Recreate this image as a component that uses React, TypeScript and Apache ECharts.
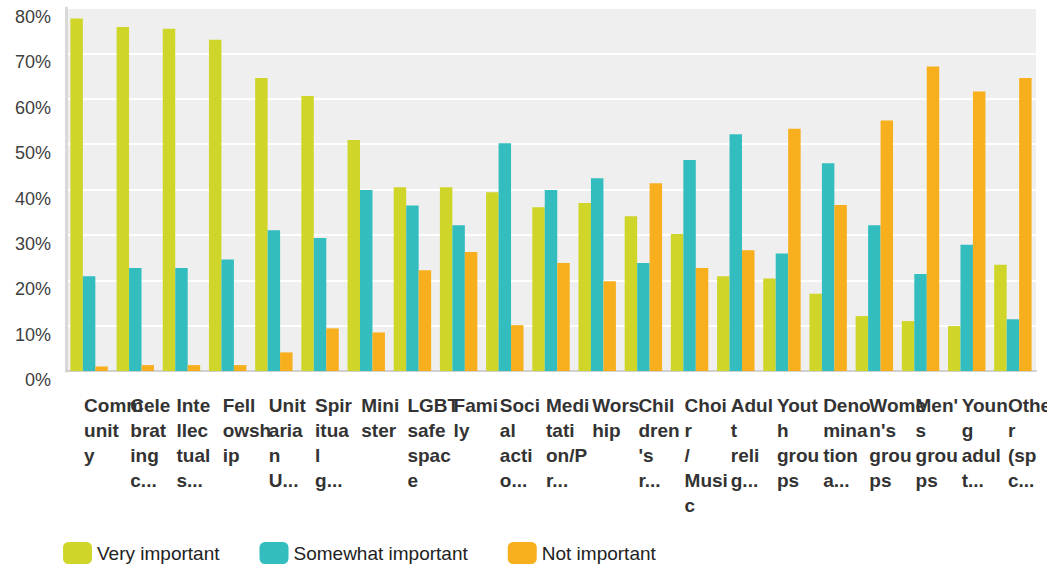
import React, { useEffect, useRef } from "react";
import * as echarts from "echarts";

const categories = [
  "Community",
  "Celebrating c...",
  "Intellectuals...",
  "Fellowship",
  "Unitarian U...",
  "Spiritual g...",
  "Minister",
  "LGBT safe space",
  "Family",
  "Social actio...",
  "Meditation/Pr...",
  "Worship",
  "Children's r...",
  "Choir / Music",
  "Adult relig...",
  "Youth groups",
  "Denomination a...",
  "Women's groups",
  "Men's groups",
  "Young adult t...",
  "Other (spec...",
];

const tickLabels = [
  "Comm\nunit\ny",
  "Cele\nbrat\ning\nc...",
  "Inte\nllec\ntual\ns...",
  "Fell\nowsh\nip",
  "Unit\naria\nn\nU...",
  "Spir\nitua\nl\ng...",
  "Mini\nster",
  "LGBT\nsafe\nspac\ne",
  "Fami\nly",
  "Soci\nal\nacti\no...",
  "Medi\ntati\non/P\nr...",
  "Wors\nhip",
  "Chil\ndren\n's\nr...",
  "Choi\nr\n/\nMusi\nc",
  "Adul\nt\nreli\ng...",
  "Yout\nh\ngrou\nps",
  "Deno\nmina\ntion\na...",
  "Wome\nn's\ngrou\nps",
  "Men'\ns\ngrou\nps",
  "Youn\ng\nadul\nt...",
  "Othe\nr\n(sp\nc...",
];

const seriesNames = ["Very important", "Somewhat important", "Not important"];

const veryImportant = [77.7, 75.8, 75.4, 73.0, 64.6, 60.6, 50.9, 40.5, 40.5, 39.4, 36.1, 37.0, 34.1, 30.2, 20.9, 20.4, 17.0, 12.1, 11.0, 9.9, 23.4];
const somewhatImportant = [20.9, 22.7, 22.7, 24.6, 31.0, 29.3, 39.9, 36.5, 32.1, 50.2, 39.9, 42.5, 23.8, 46.5, 52.2, 25.9, 45.8, 32.1, 21.4, 27.8, 11.4];
const notImportant = [1.0, 1.3, 1.3, 1.3, 4.1, 9.4, 8.5, 22.2, 26.2, 10.1, 23.8, 19.8, 41.4, 22.7, 26.6, 53.4, 36.6, 55.2, 67.1, 61.6, 64.6];

const yMin = 0;
const yMax = 80;
const yInterval = 10;

const colors = ["#cfd529", "#33bdbf", "#f7af1e"];

export default function App() {
  const ref = useRef<HTMLDivElement>(null);
  useEffect(() => {
    const chart = echarts.init(ref.current!, null, { renderer: "svg" });
    const values = [veryImportant, somewhatImportant, notImportant];
    chart.setOption({
      animation: false,
      color: colors,
      textStyle: { fontFamily: "Liberation Sans, Arial, sans-serif" },
      grid: {
        left: 66,
        right: 11,
        top: 8,
        bottom: 194,
        show: true,
        backgroundColor: "#efefef",
        borderWidth: 0,
        containLabel: false,
        outerBoundsMode: "none",
      },
      legend: {
        left: 58,
        top: 537,
        itemWidth: 29,
        itemHeight: 22,
        itemGap: 40,
        icon: "roundRect",
        textStyle: { fontSize: 19, color: "#222", fontFamily: "Liberation Sans, Arial, sans-serif" },
        data: seriesNames,
      },
      xAxis: {
        type: "category",
        data: categories,
        axisLine: { show: true, lineStyle: { color: "#d0d0d0", width: 2 } },
        axisTick: { show: false },
        axisLabel: {
          interval: 0,
          hideOverlap: false,
          formatter: (_v: string, i: number) => tickLabels[i],
          align: "left",
          padding: [0, 0, 0, -5],
          fontFamily: "Liberation Sans, Arial, sans-serif",
          fontWeight: "bold",
          fontSize: 19,
          lineHeight: 25,
          color: "#333",
          margin: 22,
        },
      },
      yAxis: {
        type: "value",
        min: yMin,
        max: yMax,
        interval: yInterval,
        axisLine: { show: true, lineStyle: { color: "#d9d9d9", width: 3 } },
        axisTick: { show: false },
        splitLine: { lineStyle: { color: "#ffffff", width: 2 } },
        axisLabel: {
          formatter: "{value}%",
          fontSize: 18,
          color: "#404040",
          margin: 15,
          verticalAlign: "top",
          fontFamily: "Liberation Sans, Arial, sans-serif",
        },
      },
      series: seriesNames.map((name, k) => ({
        name,
        type: "bar",
        data: values[k],
        barGap: "0%",
        barCategoryGap: "19%",
      })),
    });
    return () => chart.dispose();
  }, []);
  return (
    <div
      ref={ref}
      style={{ position: "absolute", left: 0, top: 0, width: 1047, height: 565 }}
    />
  );
}
